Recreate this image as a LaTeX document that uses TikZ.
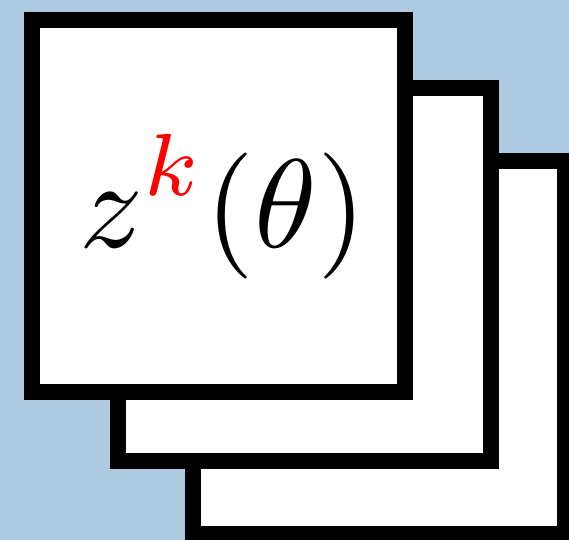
\documentclass[tikz,border=0pt]{standalone}
\usepackage{amsmath,amssymb,bm}
\usepackage{tikz}
\definecolor{bgblue}{RGB}{174,202,225}

\begin{document}
\begin{tikzpicture}[x=0.02cm, y=-0.02cm,
    card/.style={draw=black, fill=white, line width=9.1pt,
        minimum width=7.46cm, minimum height=7.46cm, inner sep=0pt}]
    % Background
    \clip (0,0) rectangle (569,540);
    \fill[bgblue] (0,0) rectangle (569,540);

    % Stack of cards, back to front
    \node[card] (back) at (379,347.5) {};
    \node[card] (middle) at (304.5,274.5) {};
    \node[card] (front) at (218.5,206) {};

    % Label
    \node[scale=7.17, inner sep=0pt, anchor=base west] (label) at (77,248)
        {$\displaystyle z^{\color{red}k}(\theta)$};
\end{tikzpicture}
\end{document}
